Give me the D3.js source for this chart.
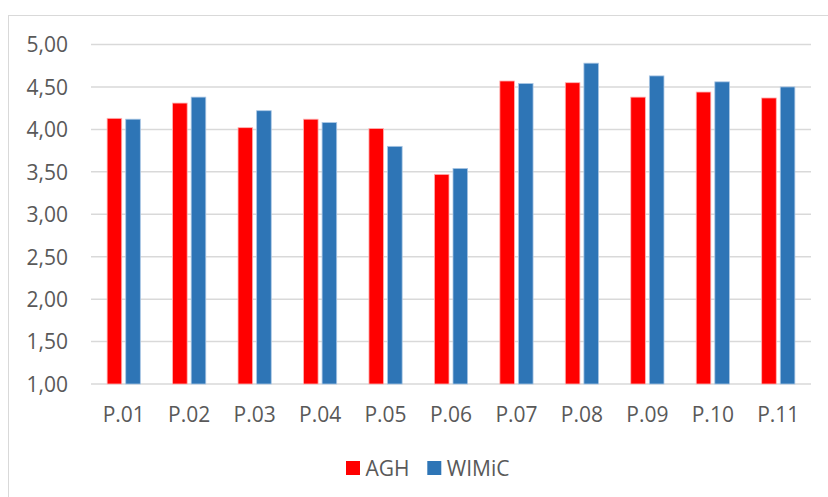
<!DOCTYPE html>
<html><head><meta charset="utf-8">
<script src="https://cdn.jsdelivr.net/npm/d3@7"></script>
<style>
html,body{margin:0;padding:0;background:#fff;}
svg text{font-family:"Open Sans","Noto Sans",sans-serif;fill:#595959;}
</style></head>
<body><svg id="c" width="828" height="497"></svg>
<script>
const categories = ["P.01","P.02","P.03","P.04","P.05","P.06","P.07","P.08","P.09","P.10","P.11"];
const agh   = [4.13,4.31,4.02,4.12,4.01,3.47,4.57,4.55,4.38,4.44,4.37];
const wimic = [4.12,4.38,4.22,4.08,3.80,3.54,4.54,4.78,4.63,4.56,4.50];
const seriesNames = ["AGH","WIMiC"];
const seriesColors = ["#FF0000","#2E75B6"];
const yTicks = [1.0,1.5,2.0,2.5,3.0,3.5,4.0,4.5,5.0];

(function(){
const svg = d3.select("#c");
const FS = 21;
svg.append("rect").attr("x",8.5).attr("y",15.5).attr("width",830).attr("height",500)
  .attr("fill","none").attr("stroke","#d9d9d9").attr("stroke-width",1);

const pL=91, pR=811, pT=44.5, pB=384;
const x = d3.scaleBand().domain(categories).range([pL,pR]).paddingInner(0).paddingOuter(0);
const y = d3.scaleLinear().domain([1,5]).range([pB,pT]);

svg.append("g").selectAll("line").data(yTicks).join("line")
  .attr("x1",pL).attr("x2",pR)
  .attr("y1",d=>y(d)).attr("y2",d=>y(d))
  .attr("stroke","#d9d9d9").attr("stroke-width",1.5);

const yAxis = d3.axisLeft(y).tickValues(yTicks).tickSize(0).tickPadding(0)
  .tickFormat(d=>d3.format(".2f")(d).replace(".",","));
const gy = svg.append("g").attr("transform",`translate(68,0)`).call(yAxis);
gy.select(".domain").remove();
gy.selectAll("text").attr("font-size",FS).attr("fill","#595959").attr("dy","0.35em")
  .style("font-family",'"Open Sans","Noto Sans",sans-serif');

const xAxis = d3.axisBottom(x).tickSize(0).tickPadding(0);
const gx = svg.append("g").attr("transform",`translate(0,${pB})`).call(xAxis);
gx.select(".domain").remove();
gx.selectAll("text").attr("font-size",FS).attr("fill","#595959").attr("y",0).attr("dy","37.5px")
  .style("font-family",'"Open Sans","Noto Sans",sans-serif');

const barW = 14.6, gap = 4;
const data = categories.map((c,i)=>({c, vals:[agh[i],wimic[i]]}));
const groups = svg.append("g").selectAll("g").data(data).join("g");
groups.selectAll("rect").data(d=>d.vals.map((v,j)=>({c:d.c,v,j}))).join("rect")
  .attr("x",d=>x(d.c)+x.bandwidth()/2 + (d.j===0 ? -(barW+gap/2) : gap/2))
  .attr("width",barW)
  .attr("y",d=>y(d.v))
  .attr("height",d=>pB-y(d.v))
  .attr("fill",d=>seriesColors[d.j])
  .attr("stroke",d=>d.j===0?"#ffb3b3":"#a9c6e4").attr("stroke-width",0.8);

const legX = [346,427.3];
const leg = svg.append("g").selectAll("g").data(seriesNames).join("g")
  .attr("transform",(d,i)=>`translate(${legX[i]},461)`);
leg.append("rect").attr("width",14).attr("height",14).attr("fill",(d,i)=>seriesColors[i]);
leg.append("text").attr("x",19.5).attr("y",14.5).attr("font-size",FS).text(d=>d);
})();
</script></body></html>
